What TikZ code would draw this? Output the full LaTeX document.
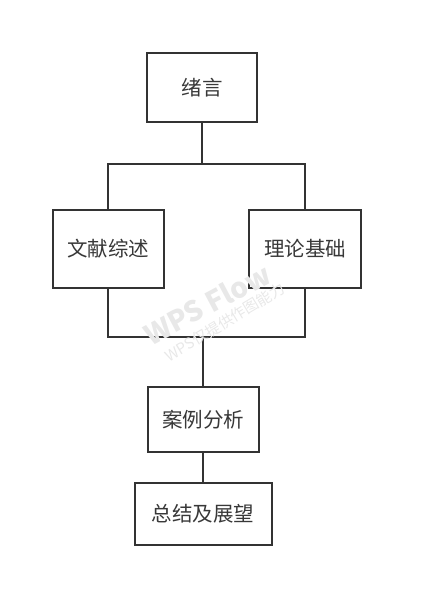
\documentclass[tikz,border=0pt]{standalone}
\usepackage{fontspec}
\setmainfont{Noto Sans CJK SC}
\begin{document}
\begin{tikzpicture}[x=1pt,y=-1pt,
  box/.style={draw=black!80, line width=2pt, fill=white, inner sep=0pt, text=black!78, font=\fontsize{20.5}{24}\selectfont},
  conn/.style={draw=black!80, line width=2pt},
  wmark/.style={text=black!9, inner sep=0pt}]
\useasboundingbox (0,0) rectangle (428,613);
\node[box, minimum width=110, minimum height=69] (a) at (202,87.5) {绪言};
\node[box, minimum width=111, minimum height=78] (b) at (108,249) {文献综述};
\node[box, minimum width=112, minimum height=78] (c) at (305,249) {理论基础};
\node[box, minimum width=111, minimum height=65] (d) at (203,419.5) {案例分析};
\node[box, minimum width=137, minimum height=62] (e) at (203,514) {总结及展望};
\coordinate (j1) at (202,164);
\coordinate (j2) at (203,337);
\draw[conn] (a.south) -- (j1);
\draw[conn] (b.north) |- (j1) -| (c.north);
\draw[conn] (b.south) |- (j2) -| (c.south);
\draw[conn] (j2) -- (d.north);
\draw[conn] (d.south) -- (e.north);
% watermark
\node[wmark, rotate=28, font=\fontsize{28}{30}\selectfont\bfseries] (wm1) at (207,304) {WPS Flow};
\node[wmark, rotate=31, font=\fontsize{15}{17}\selectfont] (wm2) at (225,322) {WPS仅提供作图能力};
\end{tikzpicture}
\end{document}
